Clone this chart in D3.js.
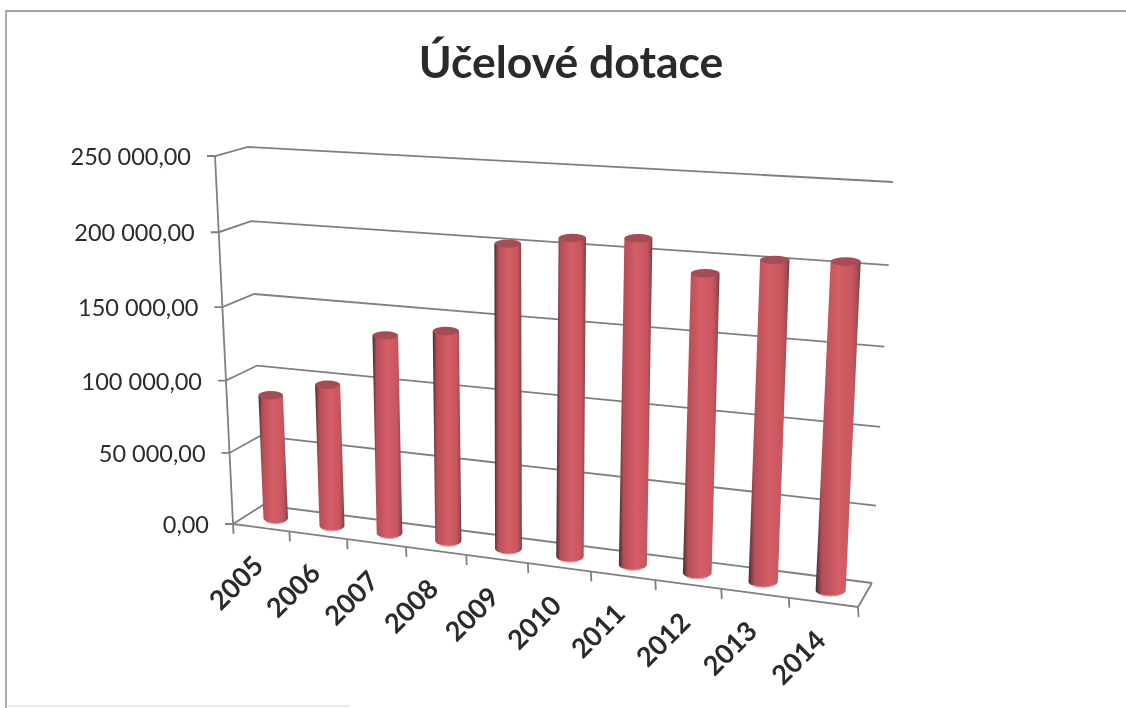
<!DOCTYPE html>
<html>
<head>
<meta charset="utf-8">
<title>Účelové dotace</title>
<script src="https://cdn.jsdelivr.net/npm/d3@7"></script>
<style>
  html, body { margin: 0; padding: 0; background: #fff; overflow: hidden; }
  text { font-family: Lato, "Open Sans", sans-serif; fill: #2b2b2b; }
  .title { font-size: 44.5px; font-weight: 700; }
  .ylab { font-size: 23.5px; }
  .xlab { font-size: 27px; font-weight: 700; }
  .grid { stroke: #7f7f7f; stroke-width: 1.8; fill: none; }
</style>
</head>
<body>
<svg id="chart" width="1126" height="708"></svg>
<script>
const years = ["2005","2006","2007","2008","2009","2010","2011","2012","2013","2014"];
const dotace = [86600, 98000, 135200, 141700, 201700, 208100, 210800, 192100, 203400, 205400];
const yTicks = [0, 50000, 100000, 150000, 200000, 250000];
const yLabels = ["0,00","50 000,00","100 000,00","150 000,00","200 000,00","250 000,00"];

const svg = d3.select("#chart");
const defs = svg.append("defs");

// slight softness of the scan
defs.append("filter").attr("id","scan")
  .append("feGaussianBlur").attr("stdDeviation",0.7);

const grad = defs.append("linearGradient").attr("id","cyl");
[[0,"#35262a"],[0.05,"#6e3a41"],[0.14,"#b44e57"],[0.5,"#d65e66"],[0.82,"#c9565f"],[0.94,"#a04a52"],[1,"#5c3a40"]]
  .forEach(s => grad.append("stop").attr("offset",s[0]).attr("stop-color",s[1]));

// corners of the 3d box on screen: [floor, top] x [front, back] x [left, right]
const box = {
  floor: { front: [[233,524],[858,607]], back: [[263,505],[872,583]] },
  top:   { front: [[215,156],[878,196]], back: [[248,147],[893,182]] }
};
const mix = (a,b,t) => [a[0]+(b[0]-a[0])*t, a[1]+(b[1]-a[1])*t];

function project(u, h, d) {
  const f = mix(mix(box.floor.front[0],box.floor.front[1],u), mix(box.floor.back[0],box.floor.back[1],u), d);
  const t = mix(mix(box.top.front[0],box.top.front[1],u), mix(box.top.back[0],box.top.back[1],u), d);
  return mix(f,t,h);
}

// perspective: things get wider towards the viewer
const persp = (t,k) => t/(t+k*(1-t));
const y = d3.scaleLinear().domain([0,250000]).range([0,1]);
const yh = v => persp(y(v),1.045);
const x = d3.scaleBand().domain(years).range([0,1]);
const ux = t => persp(x(t),1.12);
const uc = t => persp(x(t)+x.bandwidth()/2,1.12);

const root = svg.append("g").attr("filter","url(#scan)");

// paper frame
root.append("path").attr("d","M6,708V11H1126").attr("fill","none").attr("stroke","#a3a3a3").attr("stroke-width",1.8);
root.append("path").attr("d","M6,706H350").attr("fill","none").attr("stroke","#d8d8d8").attr("stroke-width",1);

root.append("text").attr("class","title").attr("x",571).attr("y",78).attr("text-anchor","middle").text("Účelové dotace");

const line = d3.line();

// walls
yTicks.forEach((v,i) => {
  const h = yh(v);
  const fl = project(0,h,0), bl = project(0,h,1), br = project(1,h,1);
  root.append("path").attr("class","grid").attr("d",line([[fl[0]-8,fl[1]],fl,bl,br]));
  root.append("text").attr("class","ylab").attr("x",fl[0]-24).attr("y",fl[1]+3).attr("text-anchor","end")
    .attr("dominant-baseline","middle").text(yLabels[i]);
});
root.append("path").attr("class","grid").attr("d",line([project(0,0,0),project(0,1,0)]));

// floor and category ticks
root.append("path").attr("class","grid").attr("d",line([project(0,0,0),project(1,0,0),project(1,0,1)]));
years.concat([null]).forEach(yr => {
  const p = project(yr ? ux(yr) : 1,0,0);
  root.append("path").attr("class","grid").attr("d",line([p,[p[0]+0.5,p[1]+10]]));
});

years.forEach((yr,i) => {
  const p = project(uc(yr),0,0);
  root.append("text").attr("class","xlab")
    .attr("transform",`translate(${p[0]-23},${p[1]+57}) rotate(-45)`)
    .attr("text-anchor","middle").attr("dominant-baseline","middle").text(yr);
});

// cylinders
const bars = root.selectAll("g.bar").data(years).join("g").attr("class","bar");
bars.each(function(yr,i) {
  const u = uc(yr);
  const a = project(u,0,0.5), b = project(u,yh(dotace[i]),0.5);
  const step = 617*(persp(x(yr)+x.bandwidth(),1.12)-persp(x(yr),1.12));
  const rx = step*0.22, ryB = 5.5, ryT = 4.2;
  const g = d3.select(this);
  g.append("path").attr("fill","url(#cyl)")
    .attr("d",`M${b[0]-rx},${b[1]}L${a[0]-rx},${a[1]}A${rx},${ryB} 0 0 0 ${a[0]+rx},${a[1]}L${b[0]+rx},${b[1]}Z`);
  g.append("ellipse").attr("cx",b[0]).attr("cy",b[1]).attr("rx",rx).attr("ry",ryT).attr("fill","#a34e57");
  // pink rim at the foot of the cylinder
  g.append("path").attr("fill","none").attr("stroke","#ee9aa0").attr("stroke-width",1.2)
    .attr("d",`M${a[0]-rx*0.7},${a[1]+ryB*0.72}A${rx},${ryB} 0 0 0 ${a[0]+rx*0.7},${a[1]+ryB*0.72}`);
});
</script>
</body>
</html>
